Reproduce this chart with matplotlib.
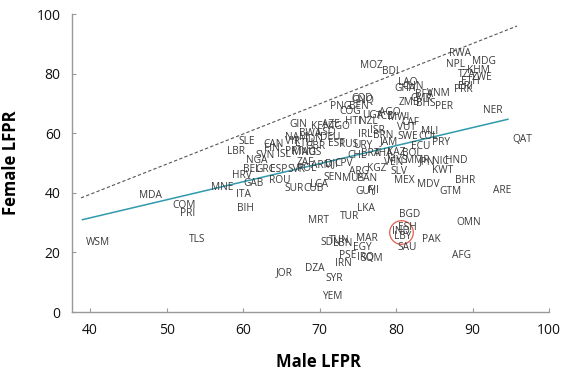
import numpy as np
import matplotlib
matplotlib.use('Agg')
from matplotlib import pyplot as plt

plt.rcParams['font.family'] = ['Open Sans', 'DejaVu Sans']

# country code, male LFPR, female LFPR
codes = ['RWA', 'NPL', 'MDG', 'KHM', 'TZA', 'ZWE', 'ETH', 'ERI', 'PRK', 'MOZ',
         'BDI', 'LAO', 'CHN', 'GHA', 'VNM', 'BFA', 'CMR', 'ZMB', 'BHS', 'PER',
         'NER', 'COD', 'GNQ', 'PNG', 'BEN', 'COG', 'UGA', 'TCD', 'MWI', 'AGO',
         'HTI', 'NZL', 'CAF', 'VUT', 'MLI', 'QAT', 'JAM', 'SWE', 'COL', 'PRY',
         'ECU', 'BRA', 'KGZ', 'VEN', 'MYS', 'MMR', 'JPN', 'NIC', 'HND', 'KWT',
         'SLV', 'MEX', 'MDV', 'BHR', 'GTM', 'ARE', 'RUS', 'URY', 'SEN', 'ARG',
         'CPV', 'MUS', 'PAN', 'GUY', 'FJI', 'DJI', 'ARM', 'ZAF', 'GIN', 'KEN',
         'AZE', 'TGO', 'SLE', 'LBR', 'CAN', 'FIN', 'VIR', 'NAM', 'BWA', 'LSO',
         'IDN', 'DEU', 'LTU', 'EST', 'SVN', 'NGA', 'ISL', 'PRT', 'MNG', 'AUS',
         'GBR', 'BEL', 'GRC', 'ESP', 'SVK', 'POL', 'HRV', 'GAB', 'ROU', 'SUR',
         'LCA', 'CUB', 'ITA', 'BIH', 'MDA', 'MNE', 'COM', 'PRI', 'WSM', 'TLS',
         'JOR', 'LKA', 'TUR', 'MRT', 'BGD', 'OMN', 'ESH', 'IND', 'LBY', 'PAK',
         'SAU', 'AFG', 'TUN', 'SDN', 'LBN', 'MAR', 'EGY', 'PSE', 'IRQ', 'SOM',
         'IRN', 'DZA', 'SYR', 'YEM', 'THA', 'KAZ', 'BOL', 'CHL', 'ISR', 'IRL',
         'BRN']
male = [88.4, 87.8, 91.5, 90.8, 89.2, 91.2, 89.7, 89.0, 88.8, 76.7,
        79.2, 81.5, 82.2, 81.2, 85.5, 83.6, 83.3, 81.7, 83.9, 86.3,
        92.6, 75.5, 75.6, 72.7, 75.1, 74.0, 76.9, 78.6, 80.3, 79.2,
        74.4, 76.4, 81.8, 81.4, 84.4, 96.5, 79.0, 81.5, 84.2, 85.8,
        83.2, 76.6, 77.5, 79.6, 80.1, 82.7, 84.0, 85.8, 87.8, 86.1,
        80.4, 81.0, 84.2, 89.0, 87.1, 93.8, 73.8, 75.6, 71.7, 75.2,
        73.1, 74.4, 76.2, 76.0, 77.0, 71.6, 70.3, 68.1, 67.2, 70.1,
        71.4, 72.7, 60.5, 59.0, 64.0, 63.7, 66.4, 67.0, 68.8, 70.9,
        69.2, 71.4, 67.9, 72.2, 62.9, 61.8, 65.3, 66.6, 67.9, 69.0,
        69.4, 61.1, 62.9, 64.6, 67.0, 68.3, 59.8, 61.3, 64.8, 66.6,
        69.9, 69.2, 60.0, 60.3, 47.9, 57.2, 52.3, 52.7, 41.0, 54.0,
        65.4, 76.0, 73.9, 69.8, 81.8, 89.5, 81.5, 80.6, 80.8, 84.6,
        81.4, 88.6, 72.6, 71.4, 73.0, 76.2, 75.6, 73.6, 76.0, 76.8,
        73.1, 69.3, 71.9, 71.6, 78.3, 80.0, 82.0, 74.9, 77.5, 76.0,
        78.3]
female = [86.7, 83.0, 84.0, 81.1, 79.7, 78.7, 77.4, 75.8, 74.7, 82.8,
          80.6, 77.1, 75.6, 74.9, 73.3, 73.0, 71.7, 70.4, 70.0, 69.1,
          67.7, 71.7, 70.9, 69.1, 68.9, 67.4, 66.0, 65.6, 65.2, 67.0,
          63.8, 63.8, 63.6, 61.9, 60.6, 58.0, 57.2, 58.8, 58.8, 57.0,
          55.4, 53.3, 48.1, 50.2, 50.8, 50.8, 50.4, 50.4, 50.8, 47.4,
          47.1, 44.1, 42.7, 44.1, 40.6, 40.8, 56.3, 56.0, 45.3, 47.1,
          49.7, 44.9, 44.9, 40.5, 41.1, 49.7, 49.3, 50.2, 63.0, 62.4,
          63.0, 62.2, 57.1, 53.8, 56.2, 54.9, 57.1, 58.6, 60.0, 60.2,
          58.0, 58.6, 56.6, 56.6, 52.4, 50.8, 53.0, 53.8, 53.5, 53.5,
          55.4, 47.7, 47.7, 48.0, 48.0, 48.2, 45.8, 43.3, 44.1, 41.6,
          42.7, 41.6, 39.3, 34.9, 39.1, 41.9, 35.8, 33.0, 23.3, 24.4,
          13.3, 34.8, 32.1, 30.6, 32.8, 29.9, 28.3, 26.9, 25.2, 24.4,
          21.7, 18.9, 23.9, 23.2, 23.0, 24.6, 21.7, 19.1, 18.2, 18.0,
          16.3, 14.7, 11.3, 5.2, 53.3, 53.5, 53.3, 52.4, 60.8, 59.7,
          59.2]

# equality line and fitted line end points
eq_x = [38.8, 95.8]
eq_y = [38.3, 96.0]
fit_x = [39.0, 94.6]
fit_y = [31.0, 64.7]
highlight = 'IND'

fig = plt.figure(figsize=(5.61, 3.71), dpi=100)
ax = fig.add_axes([0.128, 0.159, 0.851, 0.803])

ax.plot(eq_x, eq_y, ls=(0, (3, 2)), color='#555555', lw=0.8)
ax.plot(fit_x, fit_y, color='#2e9aac', lw=1.1)

for c, mx, fy in zip(codes, male, female):
    ax.text(mx, fy, c, ha='center', va='center', fontsize=7.3, color='#3a3a3a')

i = codes.index(highlight)
ax.plot(male[i], female[i], 'o', ms=17, mfc='none', mec='#e0604f', mew=0.9)

ax.set_xlim(37.6, 100)
ax.set_ylim(0, 100)
ax.set_xticks([40, 50, 60, 70, 80, 90, 100])
ax.set_yticks([0, 20, 40, 60, 80, 100])
for s in ['top', 'right']:
    ax.spines[s].set_visible(False)
for s in ['left', 'bottom']:
    ax.spines[s].set_color('#999999')
    ax.spines[s].set_linewidth(1.0)
ax.tick_params(direction='in', length=3, color='#999999', labelsize=10,
               labelcolor='#111111', pad=8)
ax.set_xlabel('Male LFPR', fontsize=12, fontweight='bold')
ax.set_ylabel('Female LFPR', fontsize=12, fontweight='bold')
ax.xaxis.set_label_coords(0.516, -0.138)
ax.yaxis.set_label_coords(-0.108, 0.5)

fig.savefig('out.png', dpi=100)
